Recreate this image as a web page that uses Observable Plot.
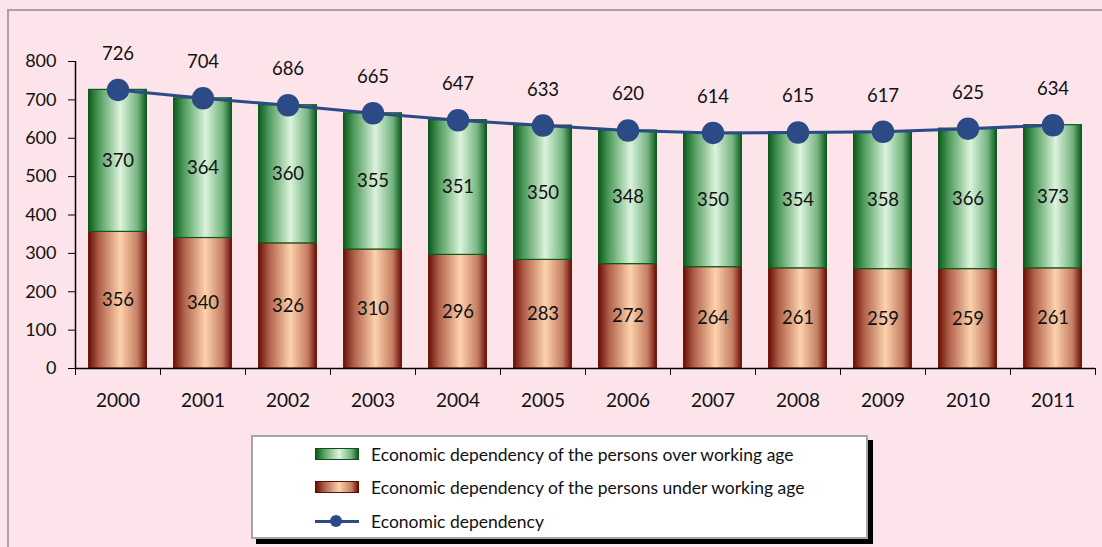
<!DOCTYPE html>
<html><head><meta charset="utf-8">
<script src="https://cdn.jsdelivr.net/npm/d3@7"></script>
<script src="https://cdn.jsdelivr.net/npm/@observablehq/plot@0.6"></script>
<style>
body{margin:0;background:#fce4ea;font-family:Lato,"Open Sans",sans-serif;width:1102px;height:547px;overflow:hidden;position:relative}
#frame{position:absolute;left:7px;top:9px;width:1130px;height:580px;border:2px solid #aaa3a6;box-sizing:border-box}
#chart{position:absolute;left:0;top:0}
#legend{position:absolute;left:251px;top:435px;width:617px;height:104px;background:#fff;border:2px solid #a6a6a6;box-sizing:border-box;box-shadow:5px 5px 0 #000}
.row{position:absolute;left:62px;display:flex;align-items:center;height:20px;font-size:17.5px;color:#111}
.sw{width:44px;height:12px;margin-right:12px;box-sizing:border-box}
.g{background:linear-gradient(to right,#0d5a1e,#5aa565 20%,#dff4df 55%,#6db079 85%,#0d5a1e);border:1px solid #0b4f19}
.r{background:linear-gradient(to right,#6a0f05,#b0604a 20%,#fdd3ad 55%,#c27a60 85%,#6a0f05);border:1px solid #5e0d04}
.ln{width:44px;height:12px;margin-right:12px;position:relative}
.ln:before{content:"";position:absolute;left:0;right:0;top:5px;height:3px;background:#2c4a86}
.ln:after{content:"";position:absolute;left:15px;top:0;width:12px;height:12px;border-radius:50%;background:#2c4a86}
</style></head>
<body>
<div id="frame"></div>
<div id="chart"></div>
<div id="legend">
  <div class="row" style="top:7px"><div class="sw g"></div><span id="l1"></span></div>
  <div class="row" style="top:40px"><div class="sw r"></div><span id="l2"></span></div>
  <div class="row" style="top:74px"><div class="ln"></div><span id="l3"></span></div>
</div>
<script>
const years = [2000,2001,2002,2003,2004,2005,2006,2007,2008,2009,2010,2011];
const overWorking = [370,364,360,355,351,350,348,350,354,358,366,373];
const underWorking = [356,340,326,310,296,283,272,264,261,259,259,261];
const totalDependency = [726,704,686,665,647,633,620,614,615,617,625,634];
const yTicks = [0,100,200,300,400,500,600,700,800];
const seriesNames = [
  "Economic dependency of the persons over working age",
  "Economic dependency of the persons under working age",
  "Economic dependency"
];

document.getElementById("l1").textContent = seriesNames[0];
document.getElementById("l2").textContent = seriesNames[1];
document.getElementById("l3").textContent = seriesNames[2];

const rows = years.map((year, i) => ({
  year,
  over: overWorking[i],
  under: underWorking[i],
  total: totalDependency[i]
}));
const boundaries = [...years.map(y => y - 0.5), years[years.length - 1] + 0.5];
const half = 0.34;

const defs = () => {
  const ns = "http://www.w3.org/2000/svg";
  const d = document.createElementNS(ns, "defs");
  d.innerHTML = `
  <linearGradient id="gGreen" x1="0" x2="1" y1="0" y2="0">
    <stop offset="0" stop-color="#0c5a1d"/>
    <stop offset="0.18" stop-color="#4f9c5c"/>
    <stop offset="0.55" stop-color="#dcf3dc"/>
    <stop offset="0.85" stop-color="#74b47f"/>
    <stop offset="1" stop-color="#0c5a1d"/>
  </linearGradient>
  <linearGradient id="gRed" x1="0" x2="1" y1="0" y2="0">
    <stop offset="0" stop-color="#6a0f05"/>
    <stop offset="0.18" stop-color="#b0604a"/>
    <stop offset="0.55" stop-color="#fdd2ac"/>
    <stop offset="0.85" stop-color="#c47c62"/>
    <stop offset="1" stop-color="#6a0f05"/>
  </linearGradient>`;
  return d;
};

const chart = Plot.plot({
  width: 1102,
  height: 420,
  marginLeft: 75,
  marginRight: 7,
  marginTop: 61,
  marginBottom: 52,
  style: {background: "transparent", fontFamily: "Lato, 'Open Sans', sans-serif", fontSize: "17px", color: "#111"},
  x: {domain: [boundaries[0], boundaries[boundaries.length - 1]], axis: null},
  y: {domain: [0, 800], axis: null},
  marks: [
    defs,
    Plot.rectY(rows, {x1: d => d.year - half, x2: d => d.year + half, y1: 0, y2: "under", fill: "url(#gRed)", stroke: "#6a0f05", strokeWidth: 1}),
    Plot.rectY(rows, {x1: d => d.year - half, x2: d => d.year + half, y1: "under", y2: "total", fill: "url(#gGreen)", stroke: "#0c5a1d", strokeWidth: 1.2}),
    Plot.text(rows, {x: "year", y: d => d.under / 2, text: d => String(d.under), fill: "#111", fontSize: 18.5}),
    Plot.text(rows, {x: "year", y: d => d.under + d.over / 2, text: d => String(d.over), fill: "#111", fontSize: 18.5}),
    Plot.line(rows, {x: "year", y: "total", stroke: "#2c4a86", strokeWidth: 3}),
    Plot.dot(rows, {x: "year", y: "total", r: 10.5, fill: "#2c4a86", stroke: "#2c4a86"}),
    Plot.text(rows, {x: "year", y: "total", text: d => String(d.total), dy: -36, fill: "#111", fontSize: 18.5}),
    Plot.ruleX([boundaries[0]], {y1: 0, y2: 800, stroke: "#000", strokeWidth: 1.5}),
    Plot.ruleY([0], {stroke: "#000", strokeWidth: 1.5}),
    Plot.axisY({ticks: yTicks, tickSize: 7, label: null, tickFormat: () => "", stroke: "#000"}),
    Plot.text(yTicks, {x: boundaries[0], y: d => d, text: d => String(d), textAnchor: "end", dx: -19, fill: "#111", fontSize: 18}),
    Plot.axisX({ticks: boundaries, tickSize: 7, label: null, tickFormat: () => "", stroke: "#000"}),
    Plot.axisX({ticks: years, tickSize: 0, tickPadding: 25, fontSize: 19, label: null, tickFormat: d => String(d)})
  ]
});
document.getElementById("chart").appendChild(chart);
</script>
</body></html>
